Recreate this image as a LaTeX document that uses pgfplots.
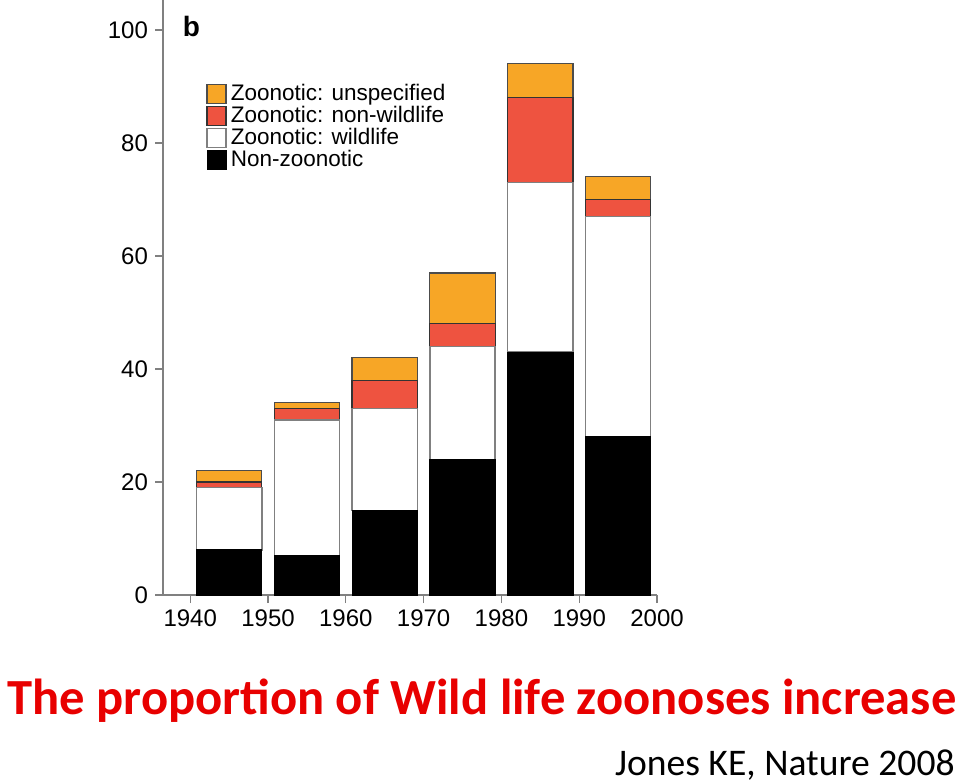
\documentclass[border=0pt]{standalone}
\usepackage{pgfplots}
\pgfplotsset{compat=1.18}
\usepackage{fontspec}
\setmainfont{Liberation Sans}
\newfontfamily\carlito{Carlito}
\definecolor{orng}{RGB}{247,166,38}
\definecolor{rd}{RGB}{238,83,64}
\definecolor{titlered}{RGB}{232,0,0}
\begin{document}
\begin{tikzpicture}[x=1pt,y=1pt]
\path[use as bounding box] (0,0) rectangle (480,-391.5);
\begin{axis}[
  at={(81.5pt,-297.5pt)}, anchor=south west,
  scale only axis, width=247pt, height=297.5pt,
  xmin=1936.5, xmax=2000, ymin=0, ymax=105.3,
  axis lines*=left,
  axis line style={draw=black!50, line width=0.6pt},
  ybar stacked, bar width=8.4,
  xtick={1940,1950,...,2000}, ytick={0,20,...,100},
  xticklabel style={/pgf/number format/1000 sep={}},
  tick align=outside, major tick length=4pt,
  tick style={draw=black!50, line width=0.6pt},
  tick label style={font=\fontsize{12}{14}\selectfont},
  /pgf/number format/assume math mode=true,
  enlargelimits=false, clip=false,
  reverse legend,
  legend cell align=left,
  legend style={at={(0.087,0.866)}, anchor=north west, draw=none, fill=none,
    font=\fontsize{11.25}{12}\selectfont, row sep=-2.6pt, inner sep=0pt},
  legend image code/.code={\draw[#1] (-1pt,-4.75pt) rectangle (8.5pt,4.75pt);},
]
\addplot[fill=black, draw=black] coordinates {(1945,8) (1955,7) (1965,15) (1975,24) (1985,43) (1995,28)};
\addplot[fill=white, draw=black!50, line width=0.7pt] coordinates {(1945,11) (1955,24) (1965,18) (1975,20) (1985,30) (1995,39)};
\addplot[fill=rd, draw=black!80, line width=0.6pt] coordinates {(1945,1) (1955,2) (1965,5) (1975,4) (1985,15) (1995,3)};
\addplot[fill=orng, draw=black!70, line width=0.6pt] coordinates {(1945,2) (1955,1) (1965,4) (1975,9) (1985,6) (1995,4)};
\legend{Non-zoonotic, Zoonotic: wildlife, Zoonotic: non-wildlife, Zoonotic: unspecified}
\node[anchor=base west, inner sep=0, font=\fontsize{14}{16}\selectfont\bfseries] at (axis cs:1939.0,98.9) {b};
\end{axis}
\node[anchor=base west, inner sep=0, font=\carlito\bfseries\fontsize{25.3}{30}\selectfont, text=titlered] at (3.5,-357) {The proportion of Wild life zoonoses increase};
\node[anchor=base east, inner sep=0, font=\carlito\fontsize{18.8}{23}\selectfont] at (477.5,-387.5) {Jones KE, Nature 2008};
\end{tikzpicture}
\end{document}
